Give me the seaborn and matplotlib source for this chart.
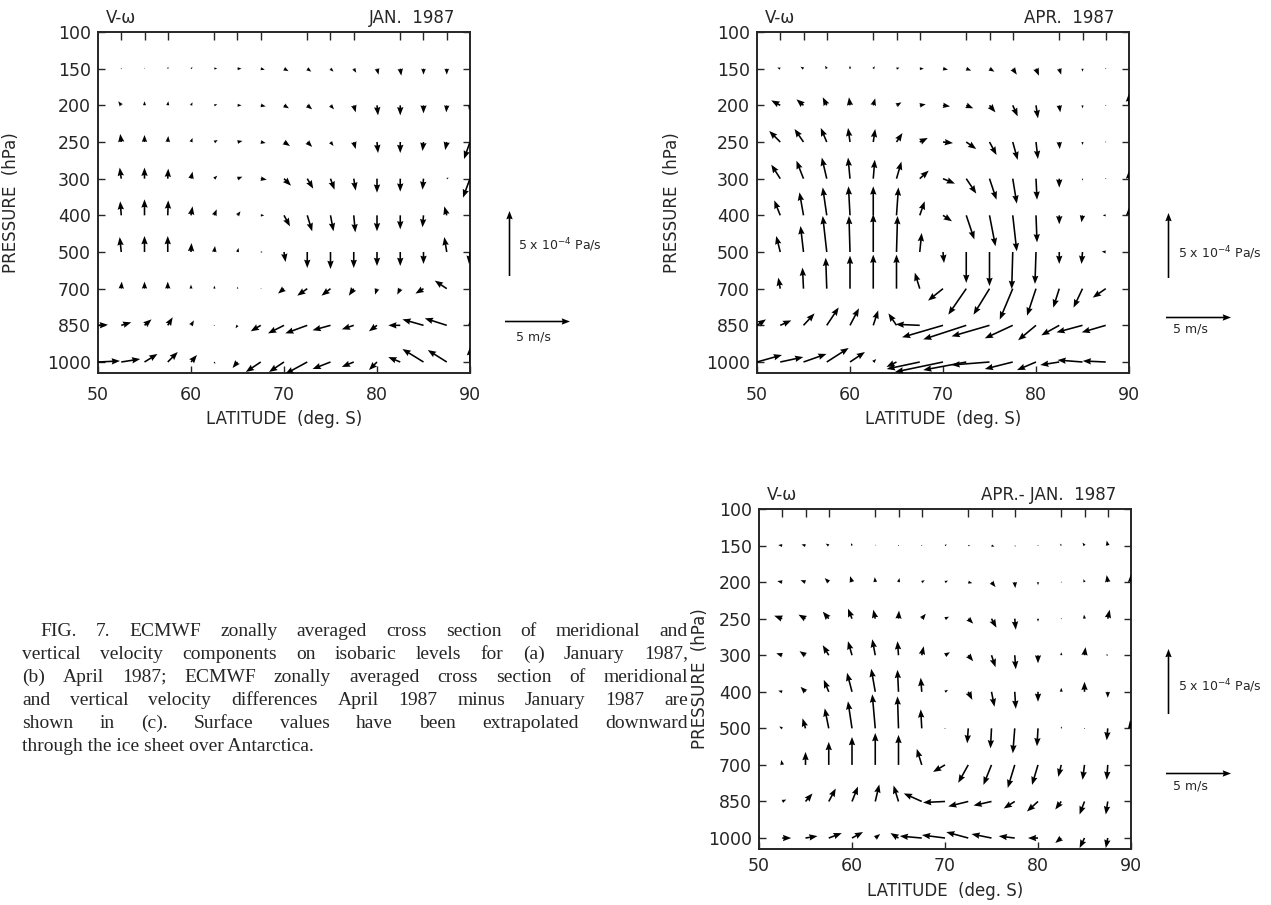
import numpy as np
import pandas as pd
import matplotlib
matplotlib.use("Agg")
import matplotlib.pyplot as plt
import seaborn as sns

# ---------------- data ----------------
LATS = [50, 52.5, 55, 57.5, 60, 62.5, 65, 67.5, 70, 72.5, 75, 77.5, 80, 82.5, 85, 87.5, 90]
LEVELS = [150, 200, 250, 300, 400, 500, 700, 850, 1000]
LEVEL_TICKS = [100, 150, 200, 250, 300, 400, 500, 700, 850, 1000]
LAT_TICKS = [50, 60, 70, 80, 90]

# (a) January 1987: meridional wind v (m/s, + = poleward) and -omega (1e-4 Pa/s, + = upward)
JAN_V = [
    [0, 0.04, 0, 0.04, 0.12, 0.23, 0.31, 0.31, 0.35, 0.31, 0.23, 0.19, 0.12, 0.08, 0, 0, 0],
    [0, -0.23, 0, 0.04, 0.12, 0.23, 0.31, 0.38, 0.38, 0.38, 0.27, 0.15, 0.08, 0, 0, -0.04, -0.08],
    [0, -0.08, 0, 0.04, 0.12, 0.27, 0.38, 0.38, 0.46, 0.38, 0.23, 0.15, 0.08, 0, -0.08, -0.12, -0.46],
    [0, -0.12, 0, 0.04, 0.12, 0.23, 0.38, 0.46, 0.54, 0.46, 0.31, 0.15, 0, 0, -0.08, 0.15, -0.54],
    [0, -0.08, 0, 0.04, 0.12, 0.19, 0.23, 0.27, 0.46, 0.38, 0.23, 0.12, 0, 0, -0.08, -0.19, 0],
    [0, -0.12, 0, 0, 0.04, 0.06, 0.08, 0.15, 0.12, 0, 0, 0, 0, 0, 0, -0.19, -0.08],
    [0, 0.04, 0, 0, 0, 0.04, 0.02, 0.08, -0.46, -0.77, -0.69, -0.38, -0.15, -0.23, -0.62, -0.92, 0],
    [0.77, 0.77, 0.54, 0.38, 0.23, 0.04, -0.15, -0.77, -1.23, -1.69, -1.38, -0.92, -0.62, -0.92, -1.62, -1.69, 0],
    [1.69, 1.46, 1.0, 0.77, 0.46, 0.08, -0.38, -1.15, -1.15, -1.69, -1.38, -0.92, -0.62, -0.92, -1.62, -1.46, 0],
]
JAN_W = [
    [0, 0.04, 0.08, 0.15, 0.12, 0.04, 0, -0.08, -0.19, -0.23, -0.23, -0.31, -0.46, -0.54, -0.46, -0.46, 0],
    [0, 0.31, 0.31, 0.31, 0.23, 0.08, 0, -0.08, -0.23, -0.31, -0.31, -0.54, -0.77, -0.77, -0.62, -0.54, -0.38],
    [0, 0.62, 0.54, 0.46, 0.31, 0.15, 0.08, -0.08, -0.31, -0.38, -0.31, -0.54, -0.85, -0.85, -0.69, -0.62, -1.31],
    [0, 0.85, 0.85, 0.77, 0.54, 0.23, 0.15, -0.08, -0.54, -0.77, -0.85, -0.92, -1.08, -1.0, -0.85, 0.08, -1.46],
    [0, 1.08, 1.23, 1.15, 0.69, 0.46, 0.31, 0, -0.85, -1.23, -1.23, -1.31, -1.23, -1.08, -0.92, 0.69, 0],
    [0, 1.15, 1.23, 1.23, 0.69, 0.46, 0.31, 0, -0.77, -1.23, -1.31, -1.23, -1.08, -1.08, -0.92, 1.15, -0.92],
    [0, 0.54, 0.54, 0.54, 0.31, 0.23, 0.15, 0, -0.38, -0.54, -0.54, -0.54, -0.46, -0.46, -0.38, 0.62, 0],
    [0.04, 0.23, 0.46, 0.62, 0.38, 0, -0.23, -0.46, -0.62, -0.62, -0.38, -0.31, -0.46, 0, 0.46, 0.54, 0.38],
    [0.08, 0.23, 0.62, 0.77, 0.54, -0.15, -0.46, -0.77, -0.77, -0.92, -0.54, -0.38, -0.62, 0.38, 1.0, 0.92, 1.15],
]

# (b) April 1987
APR_V = [
    [0, -0.23, -0.23, -0.12, 0, 0.12, 0.23, 0.31, 0.38, 0.38, 0.38, 0.31, 0.23, 0.15, 0, 0, 0],
    [0, -0.69, -0.54, -0.31, -0.08, 0.15, 0.38, 0.46, 0.54, 0.54, 0.46, 0.38, 0.15, 0.08, 0, 0, 0],
    [0, -0.85, -0.69, -0.46, -0.15, 0.15, 0.46, 0.62, 0.77, 0.77, 0.54, 0.38, 0.15, 0.04, 0, 0, 0],
    [0, -0.69, -0.54, -0.38, -0.15, 0.12, 0.38, 0.69, 0.92, 0.77, 0.54, 0.31, 0.08, 0, 0, 0, 0],
    [0, -0.46, -0.31, -0.31, -0.12, 0, 0.15, 0.38, 0.69, 0.62, 0.46, 0.31, 0.08, 0, -0.08, -0.23, 0],
    [0, -0.31, -0.23, -0.31, -0.08, 0, 0.08, 0.15, 0.08, 0, 0, -0.08, -0.08, 0, -0.08, -0.31, 0],
    [0, -0.15, -0.08, -0.08, 0, 0, 0, -0.38, -1.15, -1.38, -1.23, -1.0, -0.69, -0.46, -0.69, -1.0, 0],
    [0.69, 0.85, 0.85, 0.92, 0.69, 0.38, -0.62, -1.85, -3.15, -3.31, -2.92, -2.15, -1.38, -1.38, -2.0, -1.85, 0],
    [1.92, 1.77, 1.77, 1.69, 1.15, 0.23, -0.77, -2.54, -3.69, -3.31, -2.92, -2.15, -1.46, -1.46, -1.92, -1.77, 0],
]
APR_W = [
    [0, 0.08, 0.15, 0.23, 0.23, 0.19, 0.08, 0, -0.08, -0.15, -0.23, -0.46, -0.54, -0.46, -0.23, 0.04, 0],
    [0, 0.38, 0.46, 0.62, 0.62, 0.54, 0.23, 0.08, -0.08, -0.23, -0.54, -0.85, -1.0, -0.54, -0.23, 0.04, 0.92],
    [0, 0.85, 1.0, 1.08, 1.08, 1.0, 0.69, 0.31, -0.08, -0.54, -1.0, -1.38, -1.31, -0.54, -0.23, 0, 0],
    [0, 1.08, 1.38, 1.62, 1.62, 1.46, 1.31, 0.62, -0.38, -1.15, -1.62, -1.92, -1.62, -0.69, -0.15, 0.04, 0.62],
    [0, 1.15, 1.77, 2.15, 2.23, 2.23, 2.15, 1.08, -0.46, -1.85, -2.38, -2.77, -2.08, -0.69, -0.54, 0, 0.62],
    [0, 1.23, 2.0, 2.77, 2.77, 2.92, 2.77, 1.46, -0.85, -2.38, -2.62, -2.85, -2.46, -0.92, -0.92, 0.04, 0],
    [0, 0.85, 1.62, 2.38, 2.54, 2.62, 2.62, 1.23, -0.92, -2.0, -2.0, -2.38, -2.08, -1.46, -1.46, -0.69, 0],
    [0.46, 0.38, 0.92, 1.38, 1.31, 1.15, 0.92, 0.08, -0.92, -1.08, -0.85, -1.0, -1.15, -0.77, -0.54, -0.54, 0],
    [0.54, 0.38, 0.62, 1.08, 0.77, 0.23, -0.38, -0.54, -0.77, -0.62, -0.23, -0.54, -0.62, -0.23, 0.15, 0.08, 0],
]

# (c) April minus January 1987
DIF_V = [
    [0, -0.31, -0.31, -0.23, -0.08, 0, 0, 0.04, 0.15, 0.15, 0.23, 0.08, 0, -0.08, -0.15, -0.08, 0],
    [0, -0.38, -0.38, -0.31, -0.15, -0.04, 0.08, 0.23, 0.23, 0.31, 0.31, 0.04, 0, 0, -0.08, -0.08, 0],
    [0, -0.62, -0.54, -0.46, -0.31, -0.15, 0.04, 0.31, 0.31, 0.38, 0.38, 0.08, 0, 0, -0.04, 0.15, 0],
    [0, -0.46, -0.46, -0.46, -0.31, -0.23, -0.08, 0.15, 0.38, 0.38, 0.31, 0.08, 0, 0, 0.08, -0.15, 0],
    [0, -0.31, -0.38, -0.38, -0.38, -0.31, -0.08, -0.08, 0.23, 0.31, 0.23, 0.08, 0, 0, 0, 0, 0],
    [0, -0.23, -0.23, -0.31, -0.31, -0.23, -0.08, -0.08, 0.04, -0.08, -0.08, -0.15, -0.08, 0.04, 0, -0.08, -0.08],
    [0, -0.08, 0, 0, 0, 0, 0, -0.38, -0.92, -0.77, -0.62, -0.54, -0.46, -0.23, -0.15, -0.08, 0],
    [0, 0.31, 0.54, 0.54, 0.46, 0.31, -0.38, -1.38, -1.69, -1.54, -1.38, -0.85, -0.85, -0.46, -0.38, -0.15, 0],
    [-0.15, 0.69, 0.92, 1.0, 0.85, 0.38, -0.62, -1.69, -1.77, -1.69, -1.54, -1.23, -0.77, -0.46, -0.38, -0.15, 0],
]
DIF_W = [
    [0, 0.04, 0.08, 0.15, 0.19, 0.08, 0, 0.04, 0.08, 0, -0.08, -0.08, 0, 0.15, 0.23, 0.38, 0],
    [0, 0.08, 0.15, 0.31, 0.46, 0.38, 0.31, 0.15, 0.12, -0.08, -0.38, -0.46, -0.23, 0.04, 0.23, 0.54, 0.62],
    [0, 0.23, 0.31, 0.54, 0.77, 0.69, 0.62, 0.38, 0.15, -0.38, -0.69, -0.85, -0.23, 0.04, 0.31, 0.69, 0],
    [0, 0.15, 0.31, 0.77, 1.08, 1.23, 1.08, 0.69, 0.23, -0.46, -0.92, -1.08, -0.62, 0.23, 0.62, 0.04, 0],
    [0, 0.08, 0.38, 0.92, 1.46, 1.77, 1.69, 1.08, 0.15, -0.62, -1.15, -1.31, -0.77, 0.31, 0.77, -0.46, 0],
    [0, 0.15, 0.77, 1.54, 2.08, 2.62, 2.46, 1.46, 0.04, -1.15, -1.54, -1.92, -1.38, 0.15, 0, -0.92, 0.62],
    [0, 0.38, 1.0, 1.77, 2.15, 2.46, 2.31, 1.23, -0.54, -1.38, -1.54, -1.77, -1.54, -0.92, -1.15, -1.15, 0],
    [0, 0.15, 0.62, 1.0, 1.15, 1.31, 1.23, 0.62, -0.08, -0.38, -0.31, -0.54, -0.77, -0.62, -1.0, -1.0, 0],
    [0.23, 0, 0.15, 0.38, 0.46, 0.31, 0.38, 0.15, 0.23, 0.46, 0.31, 0.15, 0, -0.38, -0.77, -0.77, 0],
]

CAPTION = [
    "FIG. 7. ECMWF zonally averaged cross section of meridional and",
    "vertical velocity components on isobaric levels for (a) January 1987,",
    "(b) April 1987; ECMWF zonally averaged cross section of meridional",
    "and vertical velocity differences April 1987 minus January 1987 are",
    "shown in (c). Surface values have been extrapolated downward",
    "through the ice sheet over Antarctica.",
]

# ---------------- style ----------------
sns.set_style("ticks")
plt.rcParams["font.family"] = ["DejaVu Sans"]
plt.rcParams["axes.linewidth"] = 1.4

FW, FH = 1271, 905
fig = plt.figure(figsize=(FW / 100, FH / 100), dpi=100)


def rect(l, t, r, b):
    return [l / FW, 1 - b / FH, (r - l) / FW, (b - t) / FH]


def tidy(V, W):
    rows = []
    for i, lev in enumerate(LEVELS):
        for j, lat in enumerate(LATS):
            rows.append((lat, lev, V[i][j], W[i][j]))
    return pd.DataFrame(rows, columns=["lat", "lev", "v", "w"])


SCALE = 100 / 13.0  # units per inch (5 units = 65 px)
QKW = dict(angles="uv", scale_units="inches", scale=SCALE, units="dots",
           width=1.6, headwidth=4.0, headlength=5.2, headaxislength=4.7,
           minlength=0.6, color="black", zorder=3)


def panel(box, V, W, rtitle, ylab_x, xpad):
    ax = fig.add_axes(rect(*box))
    df = tidy(V, W)
    ypos = df["lev"].map({lv: k for k, lv in enumerate(LEVEL_TICKS)})
    q = ax.quiver(df["lat"].values, ypos.values, df["v"].values, df["w"].values, **QKW)
    ax.set_xlim(50, 90)
    ax.set_ylim(9.3, 0)
    ax.set_yticks(range(len(LEVEL_TICKS)))
    ax.set_yticklabels([str(v) for v in LEVEL_TICKS], fontsize=12.5)
    ax.set_xticks(LAT_TICKS)
    ax.set_xticklabels([str(v) for v in LAT_TICKS], fontsize=12.5)
    ax.set_xticks(LATS, minor=True)
    ax.tick_params(axis="y", which="major", direction="in", length=5, width=1.0,
                   left=True, right=True, pad=5)
    ax.tick_params(axis="x", which="major", direction="in", length=5, width=1.0,
                   bottom=True, top=False, pad=xpad)
    ax.tick_params(axis="x", which="minor", direction="in", length=6, width=1.0,
                   bottom=False, top=True)
    ax.set_ylabel("PRESSURE  (hPa)", fontsize=12)
    ax.yaxis.set_label_coords((ylab_x - box[0]) / (box[2] - box[0]), 0.5)
    ax.set_xlabel("LATITUDE  (deg. S)", fontsize=12, labelpad=5)
    ax.text(0.02, 1.015, "V-\u03c9", transform=ax.transAxes, fontsize=12,
            ha="left", va="bottom")
    ax.text(0.96, 1.015, rtitle, transform=ax.transAxes, fontsize=12,
            ha="right", va="bottom")
    return ax, q


def keys(ax, q, xv, yv, xh, yh, xt1, yt1, xt2, yt2):
    ax.quiverkey(q, xv / FW, 1 - yv / FH, 5, "", angle=90, labelpos="N",
                 coordinates="figure")
    ax.quiverkey(q, xh / FW, 1 - yh / FH, 5, "", angle=0, labelpos="N",
                 coordinates="figure")
    fig.text(xt1 / FW, 1 - yt1 / FH, "5 x 10$^{-4}$ Pa/s", fontsize=9,
             ha="left", va="center")
    fig.text(xt2 / FW, 1 - yt2 / FH, "5 m/s", fontsize=9, ha="center",
             va="center")


axA, qA = panel((98, 32, 470, 373), JAN_V, JAN_W, "JAN.  1987", 20, 9)
keys(axA, qA, 509, 243, 537, 321, 518, 245, 533, 337)

axB, qB = panel((757, 32, 1129, 373), APR_V, APR_W, "APR.  1987", 681, 9)
keys(axB, qB, 1168, 245, 1198, 317, 1178, 253, 1190, 329)

axC, qC = panel((759, 509, 1131, 849), DIF_V, DIF_W, "APR.- JAN.  1987", 709, 6)
keys(axC, qC, 1168, 681, 1198, 773, 1178, 686, 1190, 786)

# caption (justified lines)
renderer = fig.canvas.get_renderer()
x_left, x_right = 22, 688
y0, dy = 631, 23
CAP_FS = 14
for k, line in enumerate(CAPTION):
    y = 1 - (y0 + k * dy) / FH
    xl = 40 if k == 0 else x_left
    words = line.split(" ")
    if k == len(CAPTION) - 1:
        fig.text(xl / FW, y, line, fontsize=CAP_FS, family="Liberation Serif",
                 ha="left", va="center")
        continue
    txts = [fig.text(0, y, w, fontsize=CAP_FS, family="Liberation Serif",
                     ha="left", va="center") for w in words]
    widths = [t.get_window_extent(renderer).width for t in txts]
    gap = (x_right - xl - sum(widths)) / (len(words) - 1)
    x = xl
    for t, wdt in zip(txts, widths):
        t.set_x(x / FW)
        x += wdt + gap

fig.savefig("out.png", dpi=100)
